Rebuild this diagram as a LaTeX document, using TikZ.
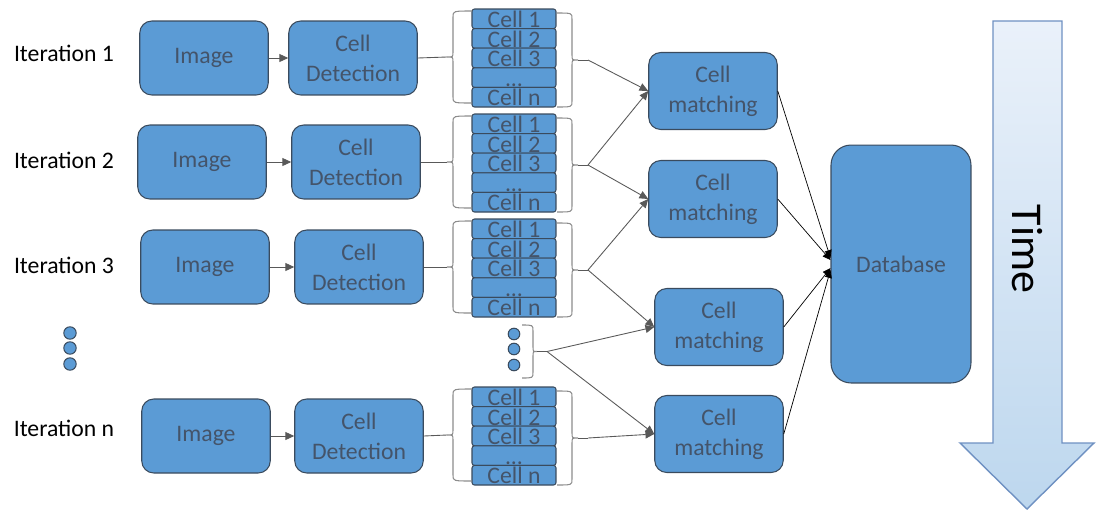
\documentclass[tikz,border=0pt]{standalone}
\usepackage{fontspec}
\setmainfont{Carlito}
\usetikzlibrary{arrows.meta}

\definecolor{boxfill}{HTML}{5B9BD5}
\definecolor{boxline}{HTML}{3A4B5E}
\definecolor{boxtext}{HTML}{44546A}
\definecolor{linkgray}{HTML}{595959}
\definecolor{bracegray}{HTML}{8C8C8C}
\definecolor{timetop}{HTML}{EAF1FA}
\definecolor{timebot}{HTML}{BDD7EE}
\definecolor{timeline}{HTML}{6F91C2}

% #1 end x, #2 spine x, #3 tip x, #4 top y, #5 bottom y, #6 name of the tip
\newcommand{\cellbrace}[6]{%
	\pgfmathsetmacro{\bmid}{(#4+#5)/2}
	\draw [brc] (#1, #4) .. controls (#2, #4) .. (#2, #4+6) -- (#2, \bmid-5) .. controls (#2, \bmid) .. (#3, \bmid) coordinate (#6) .. controls (#2, \bmid) .. (#2, \bmid+5) -- (#2, #5-6) .. controls (#2, #5) .. (#1, #5);
}

\begin{document}
\begin{tikzpicture}[x=0.02cm, y=-0.02cm,
	blk/.style={draw=boxline, line width=0.6pt, fill=boxfill, rounded corners=0.24cm, text=boxtext, align=center, inner sep=0pt, minimum width=2.57cm, minimum height=1.48cm, font=\fontsize{13.5}{17}\selectfont},
	cellbox/.style={draw=boxline, line width=0.6pt, fill=boxfill, rounded corners=0.05cm, text=boxtext, inner sep=0pt, minimum width=1.68cm, minimum height=0.392cm, text height=10pt, text depth=0pt, font=\fontsize{13.5}{15}\selectfont},
	lbl/.style={font=\fontsize{13.5}{15}\selectfont, text=black},
	brc/.style={draw=bracegray, line width=0.6pt},
	link/.style={draw=linkgray, line width=0.5pt},
	arr/.style={link, -{Triangle[length=5pt, width=4.5pt]}},
	dbarr/.style={draw=black, line width=0.4pt, -{Triangle[length=4.5pt, width=4pt]}},
	dot/.style={draw=boxline, line width=0.6pt, fill=boxfill}]
	\useasboundingbox (0, 0) rectangle (1096, 511);

	\foreach \row/\ly/\y/\ix/\cx/\sy in {1/53/58/204/353/9, 2/160/162/202/356/114, 3/265/267/205/359/219, n/428/436/206/359/387} {
		\node [lbl] (it\row) at (64, \ly) {Iteration \row};
		\node [blk] (img\row) at (\ix, \y) {Image};
		\node [blk] (cd\row) at (\cx, \y) {Cell\\Detection};
		\draw [arr] (img\row) -- (cd\row);
		\foreach \k/\txt in {1/Cell 1, 2/Cell 2, 3/Cell 3, 4/{...}, 5/Cell n}
			\node [cellbox] (c\row-\k) at (514, \sy+19.6*\k-9.8) {\txt};
		\cellbrace{472}{453}{447}{\sy+2}{\sy+94}{lt\row}
		\cellbrace{557}{572}{578}{\sy+4}{\sy+98}{rt\row}
		\coordinate (j\row) at (588, \sy+51);
		\draw [link] (cd\row.east) -- (lt\row);
		\draw [link] (rt\row) -- (j\row);
	}

	\foreach \dy in {333, 348, 364}
		\draw [dot] (70, \dy) circle [radius=0.124cm];
	\foreach \dy in {334, 349, 365}
		\draw [dot] (514, \dy) circle [radius=0.116cm];
	\cellbrace{522}{533}{537}{325}{378}{dt}
	\coordinate (jd) at (547, 351.5);
	\draw [link] (dt) -- (jd);

	\node [blk, minimum height=1.54cm] (cm1) at (713, 91) {Cell\\matching};
	\node [blk, minimum height=1.54cm] (cm2) at (713, 199) {Cell\\matching};
	\node [blk, minimum height=1.54cm] (cm3) at (719, 327) {Cell\\matching};
	\node [blk, minimum height=1.54cm] (cm4) at (719, 434) {Cell\\matching};
	\node [blk, rounded corners=0.4cm, minimum width=2.8cm, minimum height=4.76cm] (db) at (901, 264) {Database};

	\draw [arr] (j1) -- (cm1.west);
	\draw [arr] (j2) -- (cm1.west);
	\draw [arr] (j2) -- (cm2.west);
	\draw [arr] (j3) -- (cm2.west);
	\draw [arr] (j3) -- (cm3.west);
	\draw [arr] (jd) -- (cm3.west);
	\draw [arr] (jd) -- (cm4.west);
	\draw [arr] (jn) -- (cm4.west);

	\draw [dbarr] (cm1.east) -- ([yshift=0.12cm]db.west);
	\draw [dbarr] (cm2.east) -- ([yshift=0.08cm]db.west);
	\draw [dbarr] (cm3.east) -- ([yshift=-0.08cm]db.west);
	\draw [dbarr] (cm4.east) -- ([yshift=-0.12cm]db.west);

	\draw [draw=timeline, line width=0.8pt, top color=timetop, bottom color=timebot] (993, 21) -- (1062, 21) -- (1062, 443) -- (1094, 443) -- (1027, 509) -- (960, 443) -- (993, 443) -- cycle;
	\node [font=\fontsize{25}{30}\selectfont, rotate=-90] (time) at (1027, 249) {Time};
\end{tikzpicture}
\end{document}
